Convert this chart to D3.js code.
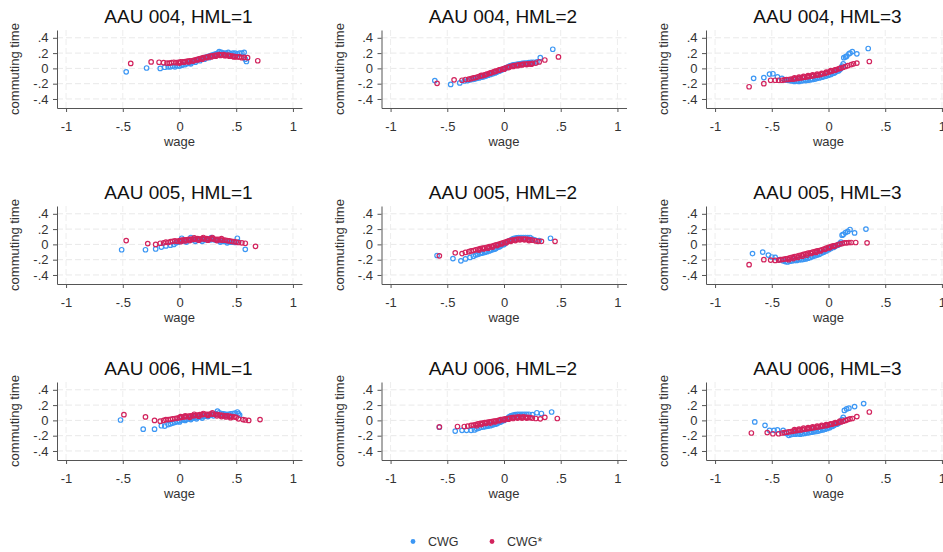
<!DOCTYPE html>
<html>
<head>
<meta charset="utf-8">
<script src="https://cdn.jsdelivr.net/npm/d3@7"></script>
<style>
body { margin: 0; background: #fff; }
svg { font-family: "Liberation Sans", Arial, sans-serif; }
</style>
</head>
<body>
<svg></svg>
<script>
let width = 943
let height = 552
let aauCodes = ['004', '005', '006']
let hmlLevels = [1, 2, 3]
let xTicks = [-1, -0.5, 0, 0.5, 1]
let xTickLabels = ['-1', '-.5', '0', '.5', '1']
let yTicks = [-0.4, -0.2, 0, 0.2, 0.4]
let yTickLabels = ['-.4', '-.2', '0', '.2', '.4']
let seriesNames = ['CWG', 'CWG*']
let seriesColors = ['#3c97f4', '#d2235d']

// [wage, commuting time] pairs
let cwg_004_1 = [[-0.47,-0.045],[-0.29,0.005],[-0.17,0.0],[-0.13,0.015],[-0.1,0.02],[-0.08,0.02],[-0.06,0.03],[-0.04,0.02],[-0.02,0.035],[0.0,0.03],[0.02,0.04],[0.03,0.05],[0.05,0.05],[0.07,0.065],[0.09,0.07],[0.1,0.08],[0.12,0.09],[0.14,0.1],[0.16,0.11],[0.18,0.12],[0.2,0.13],[0.22,0.14],[0.24,0.15],[0.26,0.16],[0.28,0.17],[0.3,0.18],[0.32,0.19],[0.34,0.2],[0.35,0.22],[0.37,0.21],[0.39,0.2],[0.41,0.2],[0.43,0.21],[0.45,0.19],[0.47,0.2],[0.49,0.2],[0.51,0.19],[0.53,0.2],[0.55,0.2],[0.57,0.21],[0.59,0.09],[0.58,0.12],[0.1,0.06],[0.14,0.08],[0.18,0.1],[0.22,0.12],[0.26,0.14],[0.3,0.16],[0.34,0.18],[0.38,0.19],[0.42,0.18],[0.46,0.18],[0.5,0.17]]
let cwgs_004_1 = [[-0.43,0.065],[-0.25,0.085],[-0.18,0.08],[-0.14,0.075],[-0.11,0.07],[-0.09,0.07],[-0.07,0.075],[-0.05,0.08],[-0.03,0.075],[-0.01,0.08],[0.01,0.085],[0.03,0.085],[0.05,0.09],[0.07,0.095],[0.09,0.1],[0.11,0.1],[0.13,0.11],[0.15,0.115],[0.17,0.125],[0.19,0.13],[0.21,0.14],[0.23,0.145],[0.25,0.15],[0.27,0.16],[0.29,0.165],[0.31,0.17],[0.33,0.175],[0.35,0.18],[0.37,0.175],[0.39,0.18],[0.41,0.17],[0.43,0.175],[0.45,0.165],[0.47,0.16],[0.49,0.155],[0.51,0.15],[0.53,0.15],[0.55,0.14],[0.57,0.145],[0.6,0.14],[0.69,0.1],[0.0,0.07],[0.04,0.08],[0.08,0.085],[0.12,0.095],[0.16,0.11],[0.2,0.12],[0.24,0.14],[0.28,0.15],[0.32,0.16],[0.36,0.17],[0.4,0.165],[0.44,0.16],[0.48,0.15]]

let cwg_004_2 = [[-0.61,-0.16],[-0.47,-0.21],[-0.39,-0.19],[-0.35,-0.165],[-0.32,-0.16],[-0.3,-0.15],[-0.28,-0.145],[-0.26,-0.14],[-0.24,-0.13],[-0.22,-0.125],[-0.2,-0.115],[-0.18,-0.11],[-0.16,-0.1],[-0.14,-0.09],[-0.12,-0.08],[-0.1,-0.07],[-0.08,-0.06],[-0.06,-0.045],[-0.04,-0.035],[-0.02,-0.02],[0.0,-0.005],[0.02,0.01],[0.04,0.025],[0.06,0.035],[0.08,0.045],[0.1,0.05],[0.12,0.055],[0.14,0.06],[0.16,0.065],[0.18,0.07],[0.2,0.07],[0.22,0.075],[0.24,0.08],[0.26,0.08],[0.29,0.085],[0.32,0.14],[0.43,0.25],[-0.15,-0.085],[-0.11,-0.065],[-0.07,-0.05],[-0.03,-0.025],[0.01,0.0],[0.05,0.03],[0.09,0.04]]
let cwgs_004_2 = [[-0.59,-0.195],[-0.44,-0.15],[-0.37,-0.155],[-0.34,-0.145],[-0.31,-0.14],[-0.29,-0.135],[-0.27,-0.125],[-0.25,-0.12],[-0.23,-0.11],[-0.21,-0.1],[-0.19,-0.095],[-0.17,-0.085],[-0.15,-0.075],[-0.13,-0.065],[-0.11,-0.055],[-0.09,-0.045],[-0.07,-0.035],[-0.05,-0.025],[-0.03,-0.015],[-0.01,-0.005],[0.01,0.005],[0.03,0.015],[0.05,0.02],[0.07,0.03],[0.09,0.035],[0.11,0.04],[0.13,0.045],[0.15,0.05],[0.17,0.055],[0.19,0.055],[0.21,0.06],[0.23,0.06],[0.25,0.065],[0.28,0.07],[0.31,0.085],[0.36,0.11],[0.48,0.15],[-0.2,-0.09],[-0.16,-0.08],[-0.12,-0.06],[-0.08,-0.04],[-0.04,-0.02],[0.0,-0.01],[0.04,0.01],[0.08,0.025],[0.12,0.035],[0.16,0.045],[0.2,0.05],[0.24,0.055]]

let cwg_004_3 = [[-0.66,-0.13],[-0.57,-0.12],[-0.52,-0.075],[-0.49,-0.07],[-0.45,-0.11],[-0.41,-0.13],[-0.38,-0.15],[-0.36,-0.155],[-0.34,-0.16],[-0.32,-0.165],[-0.3,-0.17],[-0.28,-0.165],[-0.26,-0.17],[-0.24,-0.165],[-0.22,-0.16],[-0.2,-0.16],[-0.18,-0.155],[-0.16,-0.15],[-0.14,-0.145],[-0.12,-0.14],[-0.1,-0.13],[-0.08,-0.125],[-0.06,-0.115],[-0.04,-0.105],[-0.02,-0.1],[0.0,-0.09],[0.02,-0.08],[0.04,-0.065],[0.06,-0.05],[0.08,-0.035],[0.1,-0.015],[0.11,0.0],[0.12,0.03],[0.13,0.06],[0.135,0.14],[0.16,0.16],[0.18,0.19],[0.21,0.22],[0.25,0.19],[0.35,0.26],[-0.3,-0.15],[-0.25,-0.15],[-0.2,-0.145],[-0.15,-0.135],[-0.1,-0.12],[-0.05,-0.11],[0.0,-0.08],[0.05,-0.06],[0.09,-0.03],[0.115,0.01],[0.15,0.15],[0.19,0.2]]
let cwgs_004_3 = [[-0.7,-0.24],[-0.57,-0.2],[-0.51,-0.155],[-0.47,-0.155],[-0.44,-0.155],[-0.41,-0.155],[-0.39,-0.15],[-0.37,-0.145],[-0.35,-0.145],[-0.33,-0.14],[-0.31,-0.14],[-0.29,-0.135],[-0.27,-0.13],[-0.25,-0.125],[-0.23,-0.12],[-0.21,-0.115],[-0.19,-0.11],[-0.17,-0.105],[-0.15,-0.1],[-0.13,-0.095],[-0.11,-0.09],[-0.09,-0.085],[-0.07,-0.08],[-0.05,-0.07],[-0.03,-0.065],[-0.01,-0.055],[0.01,-0.045],[0.03,-0.035],[0.05,-0.025],[0.07,-0.015],[0.09,-0.005],[0.11,0.005],[0.13,0.015],[0.15,0.025],[0.17,0.035],[0.2,0.05],[0.22,0.06],[0.25,0.07],[0.36,0.09],[-0.3,-0.125],[-0.26,-0.115],[-0.22,-0.105],[-0.18,-0.095],[-0.14,-0.085],[-0.1,-0.075],[-0.06,-0.065],[-0.02,-0.05],[0.02,-0.03],[0.06,-0.02],[0.1,0.0]]

let cwg_005_1 = [[-0.51,-0.07],[-0.3,-0.07],[-0.21,-0.06],[-0.16,-0.035],[-0.12,-0.02],[-0.08,-0.01],[-0.05,0.0],[-0.03,0.02],[-0.01,0.03],[0.01,0.04],[0.03,0.045],[0.05,0.05],[0.07,0.055],[0.09,0.06],[0.11,0.06],[0.13,0.065],[0.15,0.06],[0.17,0.065],[0.19,0.06],[0.21,0.065],[0.23,0.06],[0.25,0.065],[0.27,0.06],[0.29,0.065],[0.31,0.06],[0.33,0.055],[0.35,0.05],[0.37,0.045],[0.39,0.04],[0.41,0.04],[0.43,0.035],[0.45,0.03],[0.47,0.03],[0.49,0.025],[0.51,0.08],[0.52,0.03],[0.58,-0.065],[0.02,0.08],[0.1,0.09],[0.2,0.04],[0.28,0.09],[0.36,0.03],[0.42,0.02],[0.06,0.03],[0.14,0.04]]
let cwgs_005_1 = [[-0.47,0.05],[-0.28,0.01],[-0.21,0.0],[-0.17,0.015],[-0.14,0.02],[-0.12,0.03],[-0.1,0.025],[-0.08,0.035],[-0.06,0.04],[-0.04,0.045],[-0.02,0.04],[0.0,0.05],[0.02,0.055],[0.04,0.06],[0.06,0.06],[0.08,0.065],[0.1,0.07],[0.12,0.065],[0.14,0.07],[0.16,0.075],[0.18,0.07],[0.2,0.075],[0.22,0.07],[0.24,0.075],[0.26,0.07],[0.28,0.075],[0.3,0.07],[0.32,0.065],[0.34,0.065],[0.36,0.06],[0.38,0.055],[0.4,0.055],[0.42,0.05],[0.44,0.045],[0.46,0.04],[0.48,0.035],[0.5,0.03],[0.52,0.025],[0.55,0.02],[0.58,0.015],[0.67,-0.025],[0.01,0.035],[0.05,0.045],[0.09,0.05],[0.13,0.085],[0.17,0.055],[0.21,0.09],[0.25,0.055],[0.29,0.09],[0.33,0.05],[0.37,0.075]]

let cwg_005_2 = [[-0.59,-0.145],[-0.45,-0.185],[-0.38,-0.215],[-0.34,-0.19],[-0.3,-0.17],[-0.27,-0.155],[-0.25,-0.14],[-0.23,-0.13],[-0.21,-0.12],[-0.19,-0.115],[-0.17,-0.105],[-0.15,-0.095],[-0.13,-0.085],[-0.11,-0.075],[-0.09,-0.065],[-0.07,-0.05],[-0.05,-0.035],[-0.03,-0.02],[-0.01,-0.005],[0.01,0.015],[0.03,0.035],[0.05,0.05],[0.07,0.065],[0.09,0.08],[0.11,0.085],[0.13,0.09],[0.15,0.09],[0.17,0.09],[0.19,0.09],[0.21,0.09],[0.23,0.09],[0.25,0.07],[0.27,0.06],[0.31,0.05],[0.41,0.08],[-0.2,-0.105],[-0.16,-0.09],[-0.12,-0.07],[-0.08,-0.06],[-0.04,-0.03],[0.0,0.0],[0.04,0.04],[0.08,0.07],[0.12,0.08]]
let cwgs_005_2 = [[-0.57,-0.15],[-0.43,-0.11],[-0.37,-0.12],[-0.34,-0.105],[-0.31,-0.095],[-0.29,-0.085],[-0.27,-0.08],[-0.25,-0.07],[-0.23,-0.065],[-0.21,-0.055],[-0.19,-0.05],[-0.17,-0.045],[-0.15,-0.04],[-0.13,-0.03],[-0.11,-0.025],[-0.09,-0.015],[-0.07,-0.005],[-0.05,0.0],[-0.03,0.01],[-0.01,0.02],[0.01,0.03],[0.03,0.04],[0.05,0.05],[0.07,0.055],[0.09,0.06],[0.11,0.065],[0.13,0.07],[0.15,0.07],[0.17,0.07],[0.19,0.07],[0.21,0.065],[0.23,0.06],[0.25,0.055],[0.28,0.045],[0.3,0.04],[0.33,0.04],[0.45,0.04],[-0.22,-0.075],[-0.18,-0.06],[-0.14,-0.05],[-0.1,-0.035],[-0.06,-0.015],[-0.02,0.005],[0.02,0.02],[0.06,0.04],[0.1,0.05],[0.14,0.06],[0.18,0.06],[0.22,0.05]]

let cwg_005_3 = [[-0.67,-0.12],[-0.58,-0.1],[-0.53,-0.14],[-0.5,-0.165],[-0.47,-0.17],[-0.43,-0.2],[-0.4,-0.215],[-0.38,-0.225],[-0.36,-0.23],[-0.34,-0.22],[-0.32,-0.215],[-0.3,-0.21],[-0.28,-0.21],[-0.26,-0.2],[-0.24,-0.2],[-0.22,-0.195],[-0.2,-0.19],[-0.18,-0.18],[-0.16,-0.17],[-0.14,-0.16],[-0.12,-0.15],[-0.1,-0.14],[-0.08,-0.13],[-0.06,-0.115],[-0.04,-0.1],[-0.02,-0.085],[0.0,-0.07],[0.02,-0.055],[0.04,-0.04],[0.06,-0.025],[0.08,-0.01],[0.1,0.01],[0.11,0.03],[0.12,0.12],[0.15,0.155],[0.17,0.17],[0.19,0.195],[0.23,0.15],[0.33,0.2],[-0.3,-0.19],[-0.25,-0.185],[-0.2,-0.17],[-0.15,-0.15],[-0.1,-0.125],[-0.05,-0.1],[0.0,-0.06],[0.05,-0.03],[0.09,0.0],[0.13,0.13]]
let cwgs_005_3 = [[-0.7,-0.265],[-0.57,-0.2],[-0.51,-0.205],[-0.47,-0.21],[-0.44,-0.205],[-0.42,-0.2],[-0.4,-0.195],[-0.38,-0.19],[-0.36,-0.185],[-0.34,-0.175],[-0.32,-0.17],[-0.3,-0.16],[-0.28,-0.155],[-0.26,-0.145],[-0.24,-0.14],[-0.22,-0.13],[-0.2,-0.125],[-0.18,-0.115],[-0.16,-0.11],[-0.14,-0.1],[-0.12,-0.095],[-0.1,-0.085],[-0.08,-0.08],[-0.06,-0.07],[-0.04,-0.06],[-0.02,-0.05],[0.0,-0.04],[0.02,-0.03],[0.04,-0.02],[0.06,-0.015],[0.08,-0.005],[0.1,0.005],[0.12,0.01],[0.14,0.02],[0.16,0.02],[0.18,0.025],[0.2,0.025],[0.24,0.025],[0.34,0.02],[-0.35,-0.2],[-0.31,-0.185],[-0.27,-0.17],[-0.23,-0.155],[-0.19,-0.14],[-0.15,-0.12],[-0.11,-0.105],[-0.07,-0.085],[-0.03,-0.065],[0.01,-0.045],[0.05,-0.025]]

let cwg_006_1 = [[-0.52,0.005],[-0.32,-0.115],[-0.22,-0.115],[-0.16,-0.07],[-0.13,-0.075],[-0.1,-0.055],[-0.08,-0.045],[-0.06,-0.035],[-0.04,-0.025],[-0.02,-0.015],[0.0,-0.005],[0.02,0.005],[0.04,0.01],[0.06,0.015],[0.08,0.02],[0.1,0.025],[0.12,0.03],[0.14,0.035],[0.16,0.04],[0.18,0.045],[0.2,0.05],[0.22,0.055],[0.24,0.06],[0.26,0.065],[0.28,0.075],[0.3,0.08],[0.32,0.09],[0.335,0.12],[0.35,0.1],[0.37,0.09],[0.39,0.085],[0.41,0.08],[0.43,0.08],[0.45,0.085],[0.47,0.09],[0.49,0.095],[0.51,0.11],[0.53,0.07],[0.52,0.09],[0.0,-0.02],[0.05,0.0],[0.1,0.01],[0.15,0.02],[0.2,0.03],[0.25,0.05],[0.3,0.06],[0.4,0.06],[0.46,0.06]]
let cwgs_006_1 = [[-0.49,0.075],[-0.3,0.045],[-0.22,0.0],[-0.17,-0.01],[-0.14,0.0],[-0.12,0.01],[-0.1,0.01],[-0.08,0.015],[-0.06,0.02],[-0.04,0.025],[-0.02,0.03],[0.0,0.035],[0.02,0.04],[0.04,0.045],[0.06,0.05],[0.08,0.055],[0.1,0.06],[0.12,0.06],[0.14,0.065],[0.16,0.07],[0.18,0.075],[0.2,0.075],[0.22,0.08],[0.24,0.08],[0.26,0.08],[0.28,0.085],[0.3,0.08],[0.32,0.08],[0.34,0.075],[0.36,0.07],[0.38,0.065],[0.4,0.06],[0.42,0.06],[0.44,0.055],[0.46,0.05],[0.48,0.045],[0.5,0.04],[0.52,0.02],[0.56,0.01],[0.58,0.005],[0.61,0.0],[0.71,0.01],[0.01,0.05],[0.05,0.06],[0.09,0.04],[0.13,0.08],[0.17,0.055],[0.21,0.09],[0.25,0.065],[0.29,0.1],[0.33,0.06],[0.37,0.05],[0.41,0.045],[0.45,0.035]]

let cwg_006_2 = [[-0.57,-0.09],[-0.43,-0.14],[-0.37,-0.13],[-0.33,-0.13],[-0.29,-0.13],[-0.26,-0.125],[-0.24,-0.11],[-0.22,-0.1],[-0.2,-0.09],[-0.18,-0.085],[-0.16,-0.08],[-0.14,-0.075],[-0.12,-0.07],[-0.1,-0.06],[-0.08,-0.05],[-0.06,-0.04],[-0.04,-0.025],[-0.02,-0.01],[0.0,0.0],[0.02,0.02],[0.04,0.04],[0.06,0.06],[0.08,0.07],[0.1,0.075],[0.12,0.08],[0.14,0.08],[0.16,0.08],[0.18,0.08],[0.2,0.08],[0.22,0.08],[0.25,0.075],[0.29,0.1],[0.33,0.09],[0.42,0.11],[-0.15,-0.065],[-0.11,-0.055],[-0.07,-0.045],[-0.03,-0.02],[0.01,0.01],[0.05,0.05],[0.09,0.06],[0.13,0.07],[0.17,0.07]]
let cwgs_006_2 = [[-0.57,-0.085],[-0.41,-0.08],[-0.35,-0.08],[-0.32,-0.075],[-0.29,-0.065],[-0.27,-0.06],[-0.25,-0.055],[-0.23,-0.045],[-0.21,-0.04],[-0.19,-0.035],[-0.17,-0.03],[-0.15,-0.025],[-0.13,-0.02],[-0.11,-0.015],[-0.09,-0.01],[-0.07,-0.005],[-0.05,0.0],[-0.03,0.01],[-0.01,0.015],[0.01,0.02],[0.03,0.025],[0.05,0.03],[0.07,0.035],[0.09,0.04],[0.11,0.04],[0.13,0.045],[0.15,0.04],[0.17,0.045],[0.19,0.04],[0.21,0.04],[0.23,0.035],[0.25,0.03],[0.28,0.025],[0.32,0.02],[0.36,0.04],[0.47,0.025],[-0.24,-0.07],[-0.2,-0.055],[-0.16,-0.04],[-0.12,-0.035],[-0.08,-0.02],[-0.04,-0.005],[0.0,0.005],[0.04,0.015],[0.08,0.025],[0.12,0.03],[0.16,0.03],[0.2,0.03]]

let cwg_006_3 = [[-0.65,-0.02],[-0.56,-0.065],[-0.52,-0.13],[-0.48,-0.13],[-0.45,-0.125],[-0.4,-0.13],[-0.37,-0.17],[-0.35,-0.195],[-0.33,-0.185],[-0.31,-0.18],[-0.29,-0.18],[-0.27,-0.175],[-0.25,-0.18],[-0.23,-0.175],[-0.21,-0.17],[-0.19,-0.165],[-0.17,-0.16],[-0.15,-0.155],[-0.13,-0.15],[-0.11,-0.145],[-0.09,-0.14],[-0.07,-0.13],[-0.05,-0.125],[-0.03,-0.115],[-0.01,-0.105],[0.01,-0.095],[0.03,-0.08],[0.05,-0.065],[0.07,-0.05],[0.09,-0.035],[0.11,-0.015],[0.12,0.01],[0.13,0.04],[0.14,0.13],[0.16,0.15],[0.18,0.16],[0.23,0.18],[0.31,0.22],[-0.3,-0.16],[-0.24,-0.155],[-0.2,-0.15],[-0.16,-0.14],[-0.12,-0.13],[-0.08,-0.12],[-0.04,-0.105],[0.0,-0.085],[0.04,-0.07],[0.08,-0.045],[-0.14,-0.115]]
let cwgs_006_3 = [[-0.68,-0.165],[-0.54,-0.16],[-0.49,-0.175],[-0.44,-0.175],[-0.41,-0.165],[-0.39,-0.16],[-0.37,-0.155],[-0.35,-0.15],[-0.33,-0.145],[-0.31,-0.14],[-0.29,-0.135],[-0.27,-0.13],[-0.25,-0.125],[-0.23,-0.12],[-0.21,-0.115],[-0.19,-0.11],[-0.17,-0.105],[-0.15,-0.1],[-0.13,-0.095],[-0.11,-0.09],[-0.09,-0.085],[-0.07,-0.08],[-0.05,-0.075],[-0.03,-0.07],[-0.01,-0.065],[0.01,-0.055],[0.03,-0.05],[0.05,-0.04],[0.07,-0.035],[0.09,-0.025],[0.11,-0.02],[0.13,-0.01],[0.15,0.0],[0.17,0.01],[0.19,0.02],[0.21,0.025],[0.25,0.05],[0.36,0.11],[-0.3,-0.12],[-0.26,-0.115],[-0.22,-0.1],[-0.18,-0.095],[-0.14,-0.085],[-0.1,-0.075],[-0.06,-0.065],[-0.02,-0.055],[0.02,-0.045],[0.06,-0.03],[0.1,-0.01]]

let panelData = {
    '004-1': [cwg_004_1, cwgs_004_1], '004-2': [cwg_004_2, cwgs_004_2], '004-3': [cwg_004_3, cwgs_004_3],
    '005-1': [cwg_005_1, cwgs_005_1], '005-2': [cwg_005_2, cwgs_005_2], '005-3': [cwg_005_3, cwgs_005_3],
    '006-1': [cwg_006_1, cwgs_006_1], '006-2': [cwg_006_2, cwgs_006_2], '006-3': [cwg_006_3, cwgs_006_3]
}

let svg = d3.select('svg')
    .attr('width', width)
    .attr('height', height)

let plotW = 245
let plotH = 78

let drawPanel = (aau, hml, row, col) => {
    let left = 57 + col * 324.5
    let top = 30 + row * 176
    let xScale = d3.scaleLinear().domain([-1.08, 1.08]).range([left, left + plotW])
    let yScale = d3.scaleLinear().domain([-0.518, 0.502]).range([top + plotH, top])
    let g = svg.append('g')

    // dashed grid
    g.selectAll('.hgrid').data(yTicks).enter().append('line')
        .attr('x1', left).attr('x2', left + plotW)
        .attr('y1', d => yScale(d)).attr('y2', d => yScale(d))
        .attr('stroke', '#e9e9e9').attr('stroke-dasharray', '6,3')
    g.selectAll('.vgrid').data(xTicks).enter().append('line')
        .attr('x1', d => xScale(d)).attr('x2', d => xScale(d))
        .attr('y1', top).attr('y2', top + plotH)
        .attr('stroke', '#ededed').attr('stroke-dasharray', '6,3')

    let xAxis = d3.axisBottom(xScale).tickValues(xTicks)
        .tickFormat((d, i) => xTickLabels[i]).tickSize(4).tickSizeOuter(0).tickPadding(9.5)
    let yAxis = d3.axisLeft(yScale).tickValues(yTicks)
        .tickFormat((d, i) => yTickLabels[i]).tickSize(4).tickSizeOuter(0).tickPadding(4.5)
    let gx = g.append('g').attr('transform', 'translate(0,' + (top + plotH) + ')').call(xAxis)
    let gy = g.append('g').attr('transform', 'translate(' + left + ',0)').call(yAxis)
    ;[gx, gy].forEach(a => {
        a.select('.domain').attr('stroke', '#555')
        a.selectAll('.tick line').attr('stroke', '#555')
        a.selectAll('text').attr('font-size', '13px').attr('fill', '#333')
            .attr('font-family', '"Liberation Sans", Arial, sans-serif')
    })

    // markers: CWG first, CWG* on top
    panelData[aau + '-' + hml].forEach((pts, s) => {
        g.selectAll('.m' + s).data(pts).enter().append('circle')
            .attr('cx', d => xScale(d[0]))
            .attr('cy', d => yScale(d[1]))
            .attr('r', 2.25)
            .attr('fill', 'none')
            .attr('stroke', seriesColors[s])
            .attr('stroke-width', 1.2)
    })

    g.append('text')
        .attr('x', left + plotW / 2 - 1).attr('y', top - 6.7)
        .attr('text-anchor', 'middle').attr('font-size', '19px').attr('fill', '#111')
        .text('AAU ' + aau + ', HML=' + hml)
    g.append('text')
        .attr('x', left + plotW / 2).attr('y', top + plotH + 38)
        .attr('text-anchor', 'middle').attr('font-size', '13px').attr('fill', '#333')
        .text('wage')
    g.append('text')
        .attr('transform', 'translate(' + (left - 38) + ',' + (top + plotH / 2) + ') rotate(-90)')
        .attr('text-anchor', 'middle').attr('font-size', '13px').attr('fill', '#333')
        .text('commuting time')
}

aauCodes.forEach((aau, r) => {
    hmlLevels.forEach((hml, c) => drawPanel(aau, hml, r, c))
})

// legend
let legendX = [413, 492]
seriesNames.forEach((name, i) => {
    svg.append('circle')
        .attr('cx', legendX[i]).attr('cy', 541.5).attr('r', 2.4)
        .attr('fill', seriesColors[i])
    svg.append('text')
        .attr('x', legendX[i] + 15).attr('y', 546)
        .attr('font-size', '12.5px').attr('fill', '#333')
        .text(name)
})
</script>
</body>
</html>
